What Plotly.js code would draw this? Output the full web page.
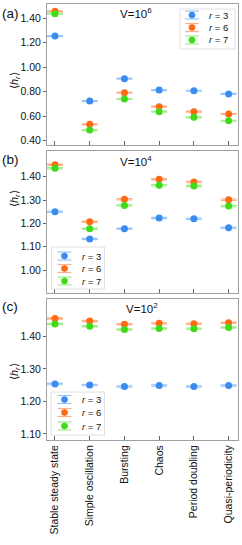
<!DOCTYPE html>
<html>
<head>
<meta charset="utf-8">
<script src="https://cdn.plot.ly/plotly-3.0.1.min.js"></script>
<style>html,body{margin:0;padding:0;background:#fff;}#chart{width:242px;height:545px;}</style>
</head>
<body>
<div id="chart"></div>
<script>
const categories = ["Stable steady state","Simple oscillation","Bursting","Chaos","Period doubling","Quasi-periodicity"];
const rLabels = ["3","6","7"];
// Panel (a) V=10^6
const a_r3 = [1.255, 0.724, 0.907, 0.814, 0.808, 0.782];
const a_r6 = [1.457, 0.534, 0.792, 0.678, 0.637, 0.618];
const a_r7 = [1.438, 0.487, 0.741, 0.637, 0.591, 0.563];
// Panel (b) V=10^4
const b_r3 = [1.250, 1.133, 1.177, 1.223, 1.220, 1.181];
const b_r6 = [1.451, 1.207, 1.303, 1.389, 1.377, 1.301];
const b_r7 = [1.436, 1.177, 1.277, 1.363, 1.360, 1.274];
// Panel (c) V=10^2
const c_r3 = [1.253, 1.250, 1.246, 1.249, 1.246, 1.249];
const c_r6 = [1.455, 1.447, 1.437, 1.440, 1.439, 1.442];
const c_r7 = [1.438, 1.431, 1.421, 1.424, 1.423, 1.427];
const errA = [0.004, 0.004, 0.004, 0.004, 0.004, 0.004];
const errB = [0.003, 0.003, 0.003, 0.003, 0.003, 0.003];
const errC = [0.002, 0.002, 0.002, 0.002, 0.002, 0.002];
const panelTitles = ["V=10<sup>6</sup>", "V=10<sup>4</sup>", "V=10<sup>2</sup>"];
const panelLabels = ["(a)", "(b)", "(c)"];
const yTitle = "⟨<i>h<sub>r</sub></i>⟩";

const colors = ["#3a8cf0", "#ff6a12", "#3fdb1a"];
const capColors = ["#9cc6f5", "#ffb089", "#a2ee8a"];
const FONT = "Liberation Sans, Arial, sans-serif";

// page geometry (pixels)
const W = 242, H = 545, L = 47, R = 4, T = 4, B = 105;
const PW = W - L - R, PH = H - T - B;
const px = x => (x - L) / PW;
const py = y => (H - B - y) / PH;

const panels = [
  {vals:[a_r3,a_r6,a_r7], err:errA, xa:"x", ya:"y"},
  {vals:[b_r3,b_r6,b_r7], err:errB, xa:"x2", ya:"y2"},
  {vals:[c_r3,c_r6,c_r7], err:errC, xa:"x3", ya:"y3"}
];
const data = [];
panels.forEach(p => {
  p.vals.forEach((v, i) => {
    data.push({
      type: "scatter", mode: "markers",
      x: categories, y: v, xaxis: p.xa, yaxis: p.ya,
      name: "r = " + rLabels[i], showlegend: false,
      marker: {color: colors[i], size: 7},
      error_y: {type: "data", array: p.err, visible: true, color: capColors[i], thickness: 1.2, width: 8},
      cliponaxis: false
    });
  });
});

const frame = "#a0a0a0";
function xax(anchor, showLabels) {
  return {
    anchor: anchor, type: "category", categoryorder: "array", categoryarray: categories,
    range: [-0.23, 5.27], showline: true, linecolor: frame, linewidth: 1, mirror: true,
    ticks: "inside", ticklen: 4, tickcolor: "#666", showgrid: false, zeroline: false,
    showticklabels: showLabels, tickangle: -90,
    tickfont: {family: FONT, size: 10.5, color: "#111"}
  };
}
function yax(anchor, domain, range, tickvals) {
  return {
    anchor: anchor, domain: domain, range: range, showline: true, linecolor: frame, linewidth: 1, mirror: true,
    ticks: "outside", ticklen: 3, tickcolor: "#666", showgrid: false, zeroline: false,
    tickvals: tickvals, ticktext: tickvals.map(t => t.toFixed(2)),
    tickfont: {family: FONT, size: 10.5, color: "#111"}
  };
}

// custom compact legends (box, symbol with error bar, label)
const shapes = [], annotations = [];
const legends = [
  {box: [180, 9, 235, 49], sx: 192, tx: 207, rows: [15, 27.5, 40]},
  {box: [51.5, 247, 104.5, 289], sx: 64.5, tx: 80, rows: [256, 268.5, 281]},
  {box: [51, 392, 104.5, 435], sx: 64.5, tx: 80, rows: [399.5, 412.5, 426]}
];
legends.forEach(lg => {
  shapes.push({type: "rect", xref: "paper", yref: "paper",
    x0: px(lg.box[0]), x1: px(lg.box[2]), y0: py(lg.box[3]), y1: py(lg.box[1]),
    line: {color: "#e0e0e0", width: 1}, fillcolor: "rgba(255,255,255,0.95)", layer: "above"});
  lg.rows.forEach((ry, i) => {
    const cap = 7, eb = 4;
    shapes.push({type: "line", xref: "paper", yref: "paper", x0: px(lg.sx), x1: px(lg.sx), y0: py(ry - eb), y1: py(ry + eb), line: {color: capColors[i], width: 1.2}});
    shapes.push({type: "line", xref: "paper", yref: "paper", x0: px(lg.sx - cap), x1: px(lg.sx + cap), y0: py(ry - eb), y1: py(ry - eb), line: {color: capColors[i], width: 1.2}});
    shapes.push({type: "line", xref: "paper", yref: "paper", x0: px(lg.sx - cap), x1: px(lg.sx + cap), y0: py(ry + eb), y1: py(ry + eb), line: {color: capColors[i], width: 1.2}});
    shapes.push({type: "circle", xref: "paper", yref: "paper", x0: px(lg.sx - 3.3), x1: px(lg.sx + 3.3), y0: py(ry + 3.3), y1: py(ry - 3.3), line: {width: 0}, fillcolor: colors[i]});
    annotations.push({text: "<i>r</i> = " + rLabels[i], xref: "paper", yref: "paper", x: px(lg.tx), y: py(ry), xanchor: "left", yanchor: "middle", showarrow: false, font: {family: FONT, size: 9.5, color: "#111"}});
  });
});

const titlePos = [[136, 13], [136, 160.5], [142, 307.5]];
const labelPos = [13, 159, 306];
const yTitleY = [81, 199, 372];
for (let k = 0; k < 3; k++) {
  annotations.push({text: panelLabels[k], xref: "paper", yref: "paper", x: px(0), y: py(labelPos[k]), xanchor: "left", yanchor: "middle", showarrow: false, font: {family: FONT, size: 13.5, color: "#111"}});
  annotations.push({text: panelTitles[k], xref: "paper", yref: "paper", x: px(titlePos[k][0]), y: py(titlePos[k][1]), xanchor: "center", yanchor: "middle", showarrow: false, font: {family: FONT, size: 11.5, color: "#111"}});
  annotations.push({text: yTitle, xref: "paper", yref: "paper", x: px(15), y: py(yTitleY[k]), xanchor: "center", yanchor: "middle", textangle: -90, showarrow: false, font: {family: FONT, size: 11, color: "#111"}});
}

const layout = {
  width: W, height: H,
  margin: {l: L, r: R, t: T, b: B},
  paper_bgcolor: "#fff", plot_bgcolor: "#fff",
  showlegend: false,
  xaxis: xax("y", false),
  xaxis2: xax("y2", false),
  xaxis3: xax("y3", true),
  yaxis: yax("x", [py(145), py(4)], [0.365, 1.517], [0.4, 0.6, 0.8, 1.0, 1.2, 1.4]),
  yaxis2: yax("x2", [py(292.7), py(151)], [0.903, 1.510], [1.0, 1.1, 1.2, 1.3, 1.4]),
  yaxis3: yax("x3", [py(440), py(299.3)], [1.081, 1.514], [1.1, 1.2, 1.3, 1.4]),
  shapes: shapes,
  annotations: annotations
};
Plotly.newPlot("chart", data, layout, {displayModeBar: false, staticPlot: true});
</script>
</body>
</html>
